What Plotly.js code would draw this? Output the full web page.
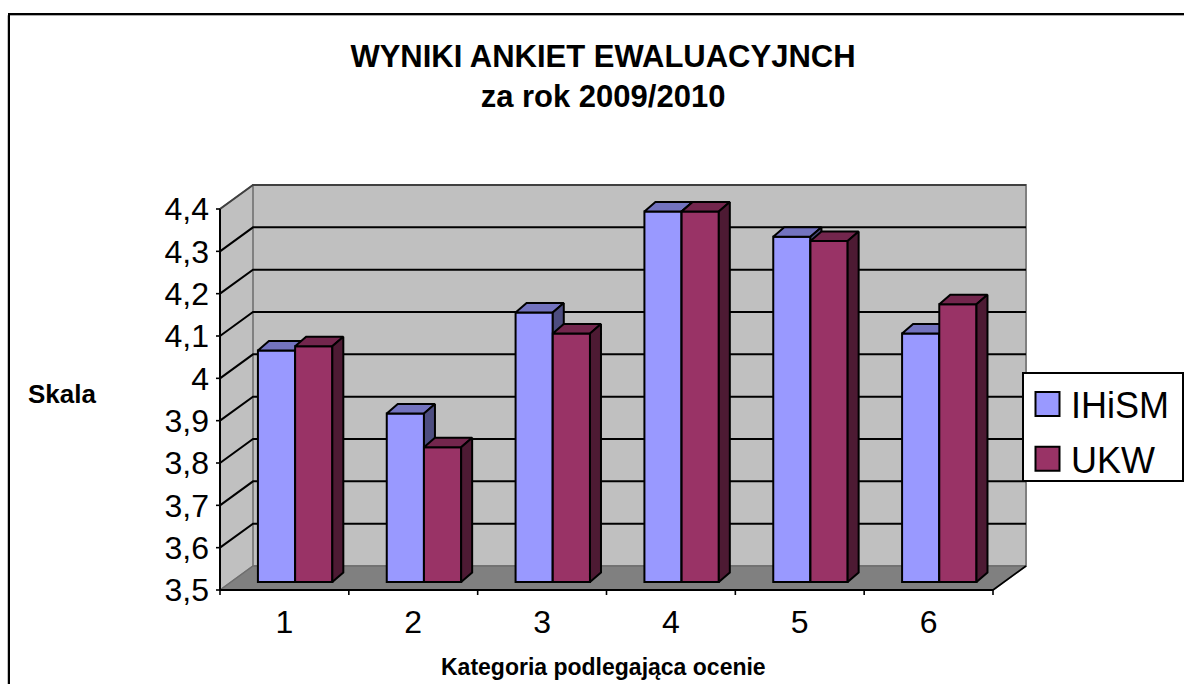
<!DOCTYPE html>
<html>
<head>
<meta charset="utf-8">
<script src="https://cdn.plot.ly/plotly-3.0.1.min.js"></script>
<style>html,body{margin:0;padding:0;background:#fff;overflow:hidden}#chart{width:1184px;height:684px}</style>
</head>
<body>
<div id="chart"></div>
<script>
// ---- chart data ----
const categories = [1, 2, 3, 4, 5, 6];
const seriesIHiSM = [4.05, 3.90, 4.14, 4.38, 4.32, 4.09];
const seriesUKW   = [4.06, 3.82, 4.09, 4.38, 4.31, 4.16];
const yTickVals = [3.5, 3.6, 3.7, 3.8, 3.9, 4.0, 4.1, 4.2, 4.3, 4.4];
const yTickText = ['3,5','3,6','3,7','3,8','3,9','4','4,1','4,2','4,3','4,4'];
const seriesNames = ['IHiSM', 'UKW'];
const titleText = 'WYNIKI ANKIET EWALUACYJNCH<br>za rok 2009/2010';
const xTitleText = 'Kategoria podlegająca ocenie';
const yTitleText = 'Skala';

// ---- styles ----
const FONT = 'Arial, "Liberation Sans", sans-serif';
const frontColors = ['#9999FF', '#993366'];
const topColors   = ['#7373BF', '#73264D'];
const sideColors  = ['#4D4D80', '#4D1A33'];

// ---- projection set-up: px per unit and the oblique depth of the floor ----
const W = 1184, H = 684;
const pxX = 773 / 6, pxY = 381 / 0.9, pxYBar = 421;
const mL = 212, mR = 154, mT = 182, mB = 86;
const plotW = W - mL - mR, plotH = H - mT - mB;
const pad = 8;
const xMin = 0.5, xMax = 6.5, yMin = 3.5, yMax = 4.4;
const depthX = 33 / pxX, depthY = 24 / pxY;
const barShiftX = 10.7 / pxX, barBasePx = pad + 8;
const barDX = 11 / pxX, barDY = 9.5 / pxYBar;
const barW = 37.2 / pxX;

const xRange = [xMin - pad / pxX, xMin + (plotW - pad) / pxX];
const yRange = [yMin - pad / pxY, yMin + (plotH - pad) / pxY];
const xRange2 = xRange.map(v => v - barShiftX);
const yRange2 = [yMin - barBasePx / pxYBar, yMin + (plotH - barBasePx) / pxYBar];

function polys(list) {
  const xs = [], ys = [];
  list.forEach(p => { p.forEach(q => { xs.push(q[0]); ys.push(q[1]); }); xs.push(null); ys.push(null); });
  return {x: xs, y: ys};
}
function fillTrace(list, fill, lineColor, lineWidth, xa, ya) {
  const d = polys(list);
  return {type: 'scatter', mode: 'lines', x: d.x, y: d.y, fill: 'toself', fillcolor: fill,
    line: {color: lineColor, width: lineWidth}, hoverinfo: 'skip', showlegend: false,
    xaxis: xa || 'x', yaxis: ya || 'y'};
}
function lineTrace(list, color, width) {
  const d = polys(list);
  return {type: 'scatter', mode: 'lines', x: d.x, y: d.y, line: {color: color, width: width},
    hoverinfo: 'skip', showlegend: false, xaxis: 'x', yaxis: 'y'};
}

const traces = [];
// walls and floor
const xb = xMin + depthX, xe = xMax + depthX;
const yb = yMin + depthY, yt = yMax + depthY;
traces.push(fillTrace([[[xMin,yMin],[xb,yb],[xb,yt],[xMin,yMax],[xMin,yMin]]], '#C0C0C0', '#808080', 1.5));
traces.push(fillTrace([[[xb,yb],[xe,yb],[xe,yt],[xb,yt],[xb,yb]]], '#C0C0C0', '#808080', 2));
traces.push(fillTrace([[[xMin,yMin],[xb,yb],[xe,yb],[xMax,yMin],[xMin,yMin]]], '#808080', '#6E6E6E', 1.5));
// gridlines following left wall and back wall
traces.push(lineTrace(yTickVals.slice(1, -1).map(v => [[xMin,v],[xb,v+depthY],[xe,v+depthY]]), '#000000', 2));
traces.push(lineTrace([[[xMin,yMax],[xb,yMax+depthY],[xe,yMax+depthY]]], '#404040', 2));
// floor front-right edge
traces.push(lineTrace([[[xMax,yMin],[xe,yb]]], '#000000', 1.6));
// axis lines and tick marks
traces.push(lineTrace([[[xMin,yMax],[xMin,yMin],[xMax,yMin]]], '#000000', 2));
traces.push(lineTrace(yTickVals.map(v => [[xMin - 4/pxX, v],[xMin, v]]), '#000000', 1.6));
const xBoundaries = categories.map(c => c - 0.5).concat([xMax]);
traces.push(lineTrace(xBoundaries.map(v => [[v, yMin],[v, yMin - 5/pxY]]), '#000000', 1.6));

// bars: one overlaid subplot per series so the later series sits in front
[seriesIHiSM, seriesUKW].forEach((vals, s) => {
  const xa = s === 0 ? 'x2' : 'x3', ya = s === 0 ? 'y2' : 'y3';
  const xPos = categories.map(c => c - barW / 2 + s * barW);
  traces.push({type: 'bar', name: seriesNames[s], x: xPos, y: vals.map(v => v - yMin), base: yMin,
    width: barW, marker: {color: frontColors[s], line: {color: '#000000', width: 2}},
    cliponaxis: false, legendgroup: seriesNames[s], xaxis: xa, yaxis: ya, hoverinfo: 'skip'});
  const tops = [], sides = [];
  vals.forEach((v, i) => {
    const l = xPos[i] - barW / 2, r = xPos[i] + barW / 2;
    tops.push([[l,v],[l+barDX,v+barDY],[r+barDX,v+barDY],[r,v],[l,v]]);
    sides.push([[r,yMin],[r+barDX,yMin+barDY],[r+barDX,v+barDY],[r,v],[r,yMin]]);
  });
  traces.push(fillTrace(tops, topColors[s], '#000000', 2, xa, ya));
  traces.push(fillTrace(sides, sideColors[s], '#000000', 2, xa, ya));
});

const hiddenAxis = {visible: false, fixedrange: true};
const frameRect = (x0, y0, color, width) => ({type: 'rect', xref: 'paper', yref: 'paper', layer: 'below',
  x0: (x0 - mL) / plotW, x1: (1300 - mL) / plotW, y0: (H - mB - 800) / plotH, y1: (H - mB - y0) / plotH,
  line: {color: color, width: width}, fillcolor: 'rgba(0,0,0,0)'});
const layout = {
  width: W, height: H, autosize: false,
  margin: {l: mL, r: mR, t: mT, b: mB, pad: 0, autoexpand: false},
  paper_bgcolor: '#FFFFFF', plot_bgcolor: 'rgba(0,0,0,0)',
  font: {family: FONT, color: '#000000'},
  barmode: 'overlay',
  title: {
    text: titleText,
    font: {family: FONT, size: 31, weight: 700, color: '#000000'},
    x: 603 / W, xanchor: 'center', xref: 'container', y: 1 - 67 / H, yanchor: 'middle', yref: 'container'
  },
  xaxis: {range: xRange, tickmode: 'array', tickvals: categories, ticktext: categories.map(String),
    ticks: '', tickfont: {family: FONT, size: 32, color: '#000'}, ticklabelstandoff: 2,
    showgrid: false, zeroline: false, showline: false, fixedrange: true},
  yaxis: {range: yRange, tickmode: 'array', tickvals: yTickVals, ticktext: yTickText,
    ticks: '', tickfont: {family: FONT, size: 32, color: '#000'}, ticklabelstandoff: 2,
    showgrid: false, zeroline: false, showline: false, fixedrange: true},
  xaxis2: Object.assign({overlaying: 'x', range: xRange2, anchor: 'y2'}, hiddenAxis),
  yaxis2: Object.assign({overlaying: 'y', range: yRange2, anchor: 'x2'}, hiddenAxis),
  xaxis3: Object.assign({overlaying: 'x', range: xRange2, anchor: 'y3'}, hiddenAxis),
  yaxis3: Object.assign({overlaying: 'y', range: yRange2, anchor: 'x3'}, hiddenAxis),
  legend: {
    xref: 'container', yref: 'container',
    x: 1022 / W, xanchor: 'left', y: 1 - 372 / H, yanchor: 'top',
    bgcolor: '#FFFFFF', bordercolor: '#000000', borderwidth: 2,
    font: {family: FONT, size: 36, color: '#000'}, tracegroupgap: 5, itemclick: false, itemdoubleclick: false,
    itemwidth: 37
  },
  annotations: [
    {text: '<b>' + yTitleText + '</b>', xref: 'paper', yref: 'paper', x: (62 - mL) / plotW, y: (H - mB - 394) / plotH,
     xanchor: 'center', yanchor: 'middle', showarrow: false, font: {family: FONT, size: 26, color: '#000'}},
    {text: '<b>' + xTitleText + '</b>', xref: 'paper', yref: 'paper', x: (603 - mL) / plotW, y: (H - mB - 667) / plotH,
     xanchor: 'center', yanchor: 'middle', showarrow: false, font: {family: FONT, size: 23, color: '#000'}}
  ],
  shapes: [ frameRect(7.8, 15.5, '#AAAAAA', 1), frameRect(9, 14, '#000000', 2) ]
};

Plotly.newPlot('chart', traces, layout, {displayModeBar: false}).then(gd => {
  // match the original's larger square legend keys and box size
  gd.querySelectorAll('.legend .legendpoints path').forEach(p => {
    p.setAttribute('d', 'M12,12H-12V-12H12Z');
    p.style.strokeWidth = '2px';
  });
  const bg = gd.querySelector('.legend .bg');
  if (bg) { bg.setAttribute('height', '108'); bg.setAttribute('width', '160'); }
});
</script>
</body>
</html>
